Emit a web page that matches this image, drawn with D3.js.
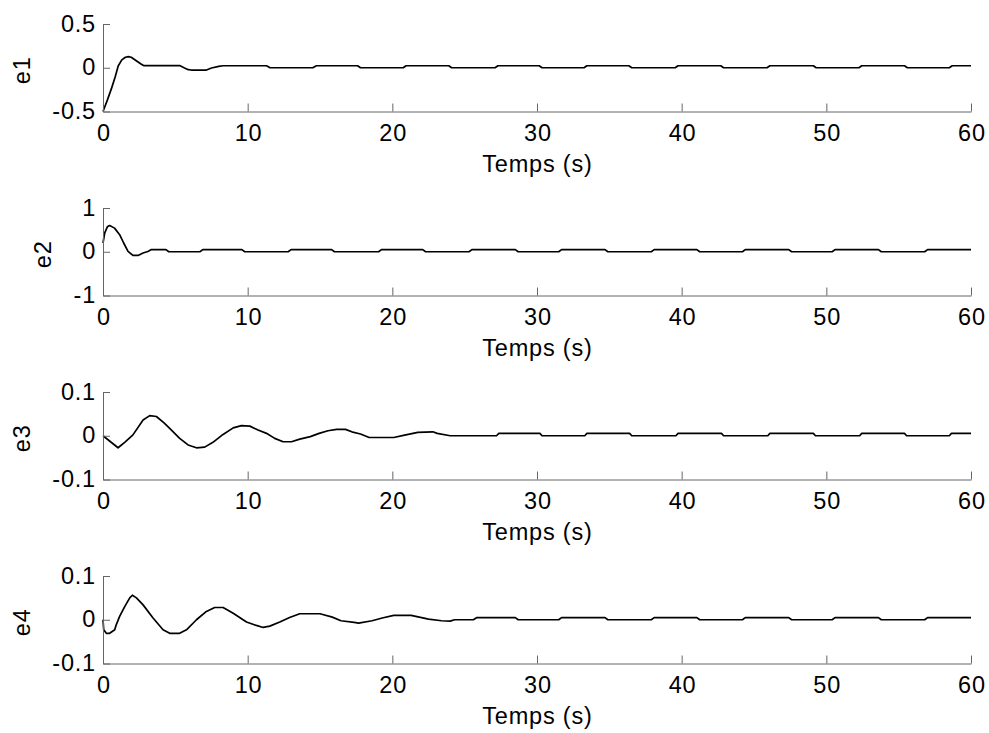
<!DOCTYPE html>
<html>
<head>
<meta charset="utf-8">
<script src="https://cdn.jsdelivr.net/npm/d3@7"></script>
<style>
  html, body { margin: 0; padding: 0; background: #fff; }
  svg { display: block; }
  text { font-family: "Liberation Sans", Arial, sans-serif; }
</style>
</head>
<body>
<svg id="chart" width="989" height="733"></svg>
<script>
// ---- data (time in s, value) ----
const e1 = [[0,-0.5],[0.3,-0.37],[0.6,-0.23],[0.85,-0.1],[1.05,0.02],[1.3,0.09],[1.55,0.12],[1.75,0.127],[1.95,0.12],[2.3,0.08],[2.6,0.045],[2.8,0.025],[5.3,0.025],[5.6,0.0],[5.9,-0.022],[6.1,-0.026],[7.15,-0.026],[7.5,-0.003],[8.0,0.015],[8.3,0.023],[11.3,0.023],[11.55,0],[14.5,0],[14.75,0.023],[17.6,0.023],[17.8,0],[20.75,0],[20.95,0.023],[23.9,0.023],[24.1,0],[27.1,0],[27.3,0.023],[30.15,0.023],[30.35,0],[33.25,0],[33.45,0.023],[36.35,0.023],[36.55,0],[39.55,0],[39.75,0.023],[42.7,0.023],[42.9,0],[45.9,0],[46.1,0.023],[49.1,0.023],[49.3,0],[52.25,0],[52.45,0.023],[55.4,0.023],[55.6,0],[58.5,0],[58.7,0.023],[60,0.023]];

const e2 = [[0,0.2],[0.12,0.43],[0.3,0.57],[0.46,0.6],[0.8,0.54],[1.15,0.39],[1.43,0.2],[1.73,0.01],[2.07,-0.085],[2.42,-0.085],[2.77,-0.03],[3.1,0.005],[3.35,0.05],[4.35,0.05],[4.55,0],[6.7,0],[6.9,0.05],[9.6,0.05],[9.8,0],[12.8,0],[13.0,0.05],[15.8,0.05],[16.0,0],[19.05,0],[19.25,0.05],[22.1,0.05],[22.3,0],[25.3,0],[25.5,0.05],[28.5,0.05],[28.7,0],[31.5,0],[31.7,0.05],[34.7,0.05],[34.9,0],[37.9,0],[38.1,0.05],[41.05,0.05],[41.25,0],[44.2,0],[44.4,0.05],[47.4,0.05],[47.6,0],[50.4,0],[50.6,0.05],[53.6,0.05],[53.8,0],[56.8,0],[57.0,0.05],[60,0.05]];

const e3 = [[0,0],[1.04,-0.0275],[1.5,-0.015],[2.07,0.002],[2.77,0.036],[3.23,0.046],[3.69,0.044],[4.2,0.03],[4.61,0.017],[5.3,-0.006],[5.88,-0.021],[6.46,-0.0275],[7.03,-0.026],[7.6,-0.015],[8.3,0.003],[9.0,0.018],[9.57,0.023],[10.15,0.022],[10.72,0.013],[11.3,0.0055],[11.87,-0.006],[12.45,-0.0137],[13.03,-0.0137],[13.6,-0.0076],[14.33,-0.002],[14.94,0.0055],[15.55,0.0115],[16.15,0.0146],[16.76,0.0146],[17.2,0.009],[17.8,0.004],[18.4,-0.004],[20.1,-0.004],[20.85,0.0016],[21.76,0.0076],[22.8,0.009],[23.1,0.0055],[24.0,0.0],[27.2,0],[27.36,0.0055],[30.2,0.0055],[30.35,0],[33.3,0],[33.45,0.0055],[36.4,0.0055],[36.55,0],[39.6,0],[39.75,0.0055],[42.75,0.0055],[42.9,0],[45.95,0],[46.1,0.0055],[49.1,0.0055],[49.25,0],[52.3,0],[52.45,0.0055],[55.4,0.0055],[55.55,0],[58.5,0],[58.65,0.0055],[60,0.0055]];

const e4 = [[0,0],[0.05,-0.023],[0.23,-0.031],[0.46,-0.031],[0.81,-0.023],[0.92,-0.011],[1.15,0.0076],[1.5,0.03],[1.85,0.05],[2.03,0.056],[2.31,0.05],[2.77,0.034],[3.46,0.004],[4.15,-0.023],[4.61,-0.031],[5.3,-0.031],[5.77,-0.023],[6.46,0],[7.15,0.019],[7.72,0.028],[8.3,0.028],[9.0,0.015],[9.92,-0.005],[10.6,-0.013],[11.07,-0.0176],[11.53,-0.0145],[12.22,-0.005],[12.9,0.005],[13.6,0.0137],[15.0,0.0137],[15.85,0.006],[16.45,-0.0023],[17.36,-0.006],[17.67,-0.0076],[18.6,-0.0023],[19.3,0.004],[20.1,0.01],[21.3,0.01],[22.5,0.0015],[23.4,-0.0023],[24.0,-0.003],[24.3,0],[25.6,0],[25.85,0.005],[28.5,0.005],[28.7,0],[31.5,0],[31.7,0.005],[34.7,0.005],[34.9,0],[37.9,0],[38.1,0.005],[41.05,0.005],[41.25,0],[44.2,0],[44.4,0.005],[47.4,0.005],[47.6,0],[50.4,0],[50.6,0.005],[53.6,0.005],[53.8,0],[56.8,0],[57.0,0.005],[60,0.005]];

const seriesNames = ["e1", "e2", "e3", "e4"];
const xTicks = [0, 10, 20, 30, 40, 50, 60];
const xTickLabels = ["0", "10", "20", "30", "40", "50", "60"];
const yDomains = [[-0.5, 0.5], [-1, 1], [-0.1, 0.1], [-0.1, 0.1]];
const yTicks = [[-0.5, 0, 0.5], [-1, 0, 1], [-0.1, 0, 0.1], [-0.1, 0, 0.1]];
const yTickLabels = [["-0.5", "0", "0.5"], ["-1", "0", "1"], ["-0.1", "0", "0.1"], ["-0.1", "0", "0.1"]];
const xLabel = "Temps (s)";

// ---- layout ----
const allSeries = [e1, e2, e3, e4];
const left = 103, right = 971;
const top0 = 24, plotH = 87.5, step = 184;
const ylabelX = [29.5, 51, 29.5, 29.5];
const fontSize = 23.5, ls = 0.8;

const svg = d3.select("#chart");
svg.append("rect").attr("width", 989).attr("height", 733).attr("fill", "#fff");

const x = d3.scaleLinear().domain([0, 60]).range([left, right]);

allSeries.forEach((data, i) => {
  const top = top0 + step * i;
  const bottom = top + plotH;
  const y = d3.scaleLinear().domain(yDomains[i]).range([bottom, top]);
  const g = svg.append("g");

  // curve
  const line = d3.line().x(d => x(d[0])).y(d => y(d[1]));
  g.append("path").datum(data)
    .attr("d", line)
    .attr("fill", "none")
    .attr("stroke", "#000")
    .attr("stroke-width", 1.7)
    .attr("stroke-linejoin", "round");

  // x axis
  const xa = g.append("g").attr("transform", `translate(0,${bottom})`)
    .call(d3.axisBottom(x).tickValues(xTicks)
      .tickFormat((d, k) => xTickLabels[k])
      .tickSizeInner(-8).tickSizeOuter(0).tickPadding(12.4));
  // y axis
  const ya = g.append("g").attr("transform", `translate(${left},0)`)
    .call(d3.axisLeft(y).tickValues(yTicks[i])
      .tickFormat((d, k) => yTickLabels[i][k])
      .tickSizeInner(-7).tickSizeOuter(0).tickPadding(7));

  [xa, ya].forEach(a => {
    a.select(".domain").attr("stroke", "#666").attr("stroke-width", 1);
    a.selectAll(".tick line").attr("stroke", "#666").attr("stroke-width", 1);
    a.selectAll(".tick text")
      .attr("fill", "#000")
      .style("font-size", fontSize + "px")
      .style("letter-spacing", ls + "px")
      .style("font-family", '"Liberation Sans", Arial, sans-serif');
  });
  xa.selectAll(".tick text").attr("dx", ls / 2);
  ya.selectAll(".tick text").attr("dy", "0.3em");

  // x label
  g.append("text")
    .attr("x", (left + right) / 2 + ls / 2)
    .attr("y", bottom + 60)
    .attr("text-anchor", "middle")
    .style("font-size", fontSize + "px")
    .style("letter-spacing", ls + "px")
    .attr("fill", "#000")
    .text(xLabel);

  // y label
  g.append("text")
    .attr("transform", `translate(${ylabelX[i]},${(top + bottom) / 2 + 2.5}) rotate(-90)`)
    .attr("text-anchor", "middle")
    .style("font-size", fontSize + "px")
    .style("letter-spacing", ls + "px")
    .attr("fill", "#000")
    .text(seriesNames[i]);
});
</script>
</body>
</html>
